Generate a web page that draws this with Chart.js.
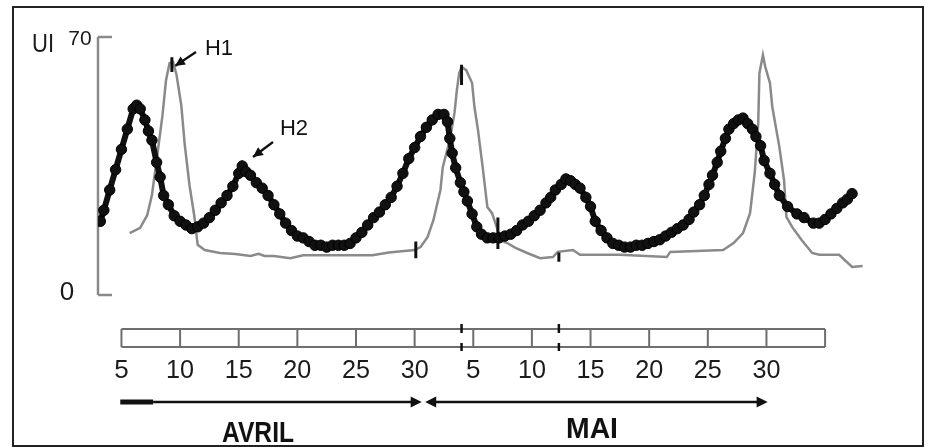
<!DOCTYPE html>
<html>
<head>
<meta charset="utf-8">
<script src="https://cdn.jsdelivr.net/npm/chart.js@4/dist/chart.umd.min.js"></script>
<style>
  html, body { margin: 0; padding: 0; background: #fff; }
  #c { display: block; }
</style>
</head>
<body>
<canvas id="c" width="930" height="447"></canvas>
<script>
// day index: 5..30 = avril, 31.. = mai (35 = 5 mai)
const h2Days = [3.2, 3.5, 4.0, 4.5, 5.0, 5.5, 6.0, 6.3, 6.6, 7.0, 7.3, 7.6, 8.0, 8.3, 8.6, 9.0, 9.5,
  10.0, 10.5, 11.0, 11.5, 12.0, 12.5, 13.0, 13.5, 14.0, 14.5, 15.0, 15.3, 15.6, 16.0, 16.5, 17.0, 17.5,
  18.0, 18.5, 19.0, 19.5, 20.0, 20.5, 21.0, 21.5, 22.0, 22.5, 23.0, 23.5, 24.0, 24.5, 25.0, 25.5, 26.0,
  26.5, 27.0, 27.5, 28.0, 28.5, 29.0, 29.5, 30.0, 30.5, 31.0, 31.5, 32.0, 32.5, 32.8, 33.0, 33.2, 33.5,
  33.9, 34.2, 34.5, 34.9, 35.3, 35.7, 36.2, 36.7, 37.2, 37.7, 38.2, 38.7, 39.2, 39.7, 40.2, 40.7, 41.2,
  41.6, 42.0, 42.5, 42.9, 43.3, 43.7, 44.1, 44.6, 45.0, 45.4, 45.9, 46.4, 46.9, 47.4, 47.9, 48.4, 48.9,
  49.4, 49.9, 50.4, 50.9, 51.4, 51.9, 52.4, 52.9, 53.4, 53.8, 54.3, 54.7, 55.1, 55.4, 55.8, 56.1, 56.5,
  56.8, 57.2, 57.6, 58.0, 58.4, 58.8, 59.1, 59.5, 59.8, 60.3, 60.7, 61.1, 61.8, 62.6, 63.2, 64.0, 64.5,
  65.0, 65.5, 66.0, 66.5, 66.9, 67.3];
const h2Values = [20, 23, 28.5, 34, 39.5, 45, 50.5, 51.5, 50.5, 47.5, 44.5, 42, 36, 32, 27, 24.5, 21.5,
  20, 19, 18, 18.5, 19.5, 21, 23, 25, 27, 29.5, 33, 35, 33.5, 32.5, 30.5, 29, 27,
  24.5, 22, 19.5, 17.5, 16, 15.5, 14.5, 13.5, 13.5, 13, 13.5, 13.5, 13.5, 14, 15.5, 17, 19,
  21, 22.5, 24.5, 26.5, 29.5, 33, 37, 40, 43, 45.5, 47.5, 49, 49, 47, 42.5, 38.5, 34.5,
  30.5, 28, 25.5, 22, 18.5, 16.5, 15.5, 15.5, 15.5, 16, 16.5, 17.5, 19, 20, 21.5, 23, 25,
  26.5, 28.5, 30, 31.5, 31, 30, 29, 26.5, 24, 20, 17.5, 15.5, 14, 13.5, 13, 13, 13.5,
  13.5, 14, 14.5, 15, 16, 17, 18, 19, 20.5, 22.5, 24.5, 27, 30, 32.5, 36, 39, 42.5,
  45, 46.5, 47.5, 48, 46.5, 45, 43, 40.5, 36.5, 33, 30, 27, 24, 22, 21, 19.5, 19.5,
  20.5, 22, 23.5, 25, 26, 27.5];

const h1Days = [5.7, 6.6, 7.2, 7.6, 8.0, 8.5, 8.8, 9.1, 9.4, 9.7, 10.1, 10.4, 10.8, 11.2, 11.5, 12.1,
  13.4, 14.7, 16.0, 16.7, 17.2, 18.0, 19.4, 20.5, 22.2, 26.4, 27.8, 30.0, 30.5, 31.1, 31.6, 32.2, 32.4,
  33.0, 33.4, 33.6, 33.8, 34.0, 34.4, 34.9, 35.1, 35.4, 35.8, 36.2, 36.6, 37.0, 37.3, 37.9, 38.6, 39.6,
  40.7, 41.8, 42.2, 43.5, 44.1, 47.5, 51.5, 51.8, 56.3, 57.2, 58.0, 58.6, 59.0, 59.3, 59.4, 59.7, 59.9,
  60.3, 60.5, 61.1, 61.5, 61.7, 62.2, 63.0, 63.9, 64.5, 66.2, 67.3, 68.2];
const h1Values = [16.8, 18.2, 21.7, 27.1, 36.6, 48.8, 58.3, 62.9, 63.2, 59.7, 51.5, 40.7, 29.8, 21.7, 13.6, 12.2,
  11.4, 11.1, 10.6, 11.2, 10.6, 10.6, 10.0, 10.8, 10.8, 10.8, 11.5, 12.2, 13.0, 15.7, 20.3, 28.5, 34.7,
  42.1, 49.4, 55.6, 60.2, 61.9, 61.0, 57.5, 51.0, 44.8, 34.7, 23.9, 22.2, 18.4, 14.9, 14.1, 12.8, 11.4,
  10.0, 10.3, 11.7, 12.2, 10.9, 10.9, 10.3, 11.7, 12.2, 14.1, 16.8, 22.2, 33.1, 46.7, 60.2, 65.1, 61.9,
  57.5, 51.0, 40.2, 31.2, 21.2, 18.4, 14.9, 11.4, 10.9, 10.9, 7.6, 7.9];

// little black day marks drawn on the curves
const markDays = [9.3, 30.1, 34.0, 37.1, 42.3];
const markLow = [60.5, 10, 57, 12.5, 9];
const markHigh = [64.5, 14.5, 62.5, 21, 11.5];

const rulerDays = [5, 10, 15, 20, 25, 30, 35, 40, 45, 50, 55, 60, 65];
const rulerLabels = ["5", "10", "15", "20", "25", "30", "5", "10", "15", "20", "25", "30", ""];
const monthBreakDays = [34, 42.3];

const yTicks = [0, 70];

const h1Points = h1Days.map((d, i) => ({ x: d, y: h1Values[i] }));
const h2Points = h2Days.map((d, i) => ({ x: d, y: h2Values[i] }));
const markPoints = [];
markDays.forEach((d, i) => {
  markPoints.push({ x: d, y: markLow[i] }, { x: d, y: markHigh[i] }, { x: d, y: null });
});

const INK = "#1b1b1b";
const GREY = "#8a8a8a";

function arrowHead(ctx, x, y, dir, len, half) {
  ctx.beginPath();
  ctx.moveTo(x, y);
  ctx.lineTo(x - dir * len, y - half);
  ctx.lineTo(x - dir * len, y + half);
  ctx.closePath();
  ctx.fill();
}

function slantArrow(ctx, x1, y1, x2, y2) {
  const a = Math.atan2(y2 - y1, x2 - x1);
  ctx.beginPath();
  ctx.moveTo(x1, y1);
  ctx.lineTo(x2, y2);
  ctx.stroke();
  ctx.beginPath();
  ctx.moveTo(x2, y2);
  ctx.lineTo(x2 - 11 * Math.cos(a - 0.45), y2 - 11 * Math.sin(a - 0.45));
  ctx.lineTo(x2 - 11 * Math.cos(a + 0.45), y2 - 11 * Math.sin(a + 0.45));
  ctx.closePath();
  ctx.fill();
}

const decor = {
  id: "decor",
  beforeDraw(chart) {
    const ctx = chart.ctx;
    const xs = chart.scales.x;
    const ys = chart.scales.y;
    ctx.save();
    ctx.fillStyle = "#fff";
    ctx.fillRect(0, 0, chart.width, chart.height);

    // frame
    ctx.strokeStyle = "#222";
    ctx.lineWidth = 2;
    ctx.strokeRect(13, 7, 910, 439);

    // y axis
    const ax = xs.left;
    ctx.strokeStyle = GREY;
    ctx.lineWidth = 2.5;
    ctx.beginPath();
    ctx.moveTo(ax, ys.getPixelForValue(yTicks[1]));
    ctx.lineTo(ax, ys.getPixelForValue(yTicks[0]));
    yTicks.forEach((t) => {
      const py = ys.getPixelForValue(t);
      ctx.moveTo(ax, py);
      ctx.lineTo(ax + 14, py);
    });
    ctx.stroke();

    ctx.fillStyle = INK;
    ctx.textBaseline = "alphabetic";
    ctx.textAlign = "center";
    ctx.font = "25px 'Liberation Sans', Arial, sans-serif";
    ctx.fillText("UI", 43, 52, 22);
    ctx.font = "21px 'Liberation Sans', Arial, sans-serif";
    ctx.fillText(String(yTicks[1]), 80, 45);
    ctx.font = "26px 'Liberation Sans', Arial, sans-serif";
    ctx.fillText(String(yTicks[0]), 67, 300);

    // ruler
    const rTop = 329, rBot = 347;
    const r0 = xs.getPixelForValue(rulerDays[0]);
    const r1 = xs.getPixelForValue(rulerDays[rulerDays.length - 1]);
    ctx.strokeStyle = "#6e6e6e";
    ctx.lineWidth = 2;
    ctx.beginPath();
    ctx.moveTo(r0, rTop); ctx.lineTo(r1, rTop);
    ctx.moveTo(r0, rBot); ctx.lineTo(r1, rBot);
    rulerDays.forEach((d) => {
      const px = xs.getPixelForValue(d);
      ctx.moveTo(px, rTop); ctx.lineTo(px, rBot);
    });
    ctx.stroke();
    ctx.strokeStyle = "#111";
    ctx.lineWidth = 2.5;
    monthBreakDays.forEach((d) => {
      const px = xs.getPixelForValue(d);
      ctx.beginPath();
      ctx.moveTo(px, rTop - 5); ctx.lineTo(px, rTop + 4);
      ctx.moveTo(px, rBot - 4); ctx.lineTo(px, rBot + 4);
      ctx.stroke();
    });

    ctx.fillStyle = INK;
    ctx.font = "26px 'Liberation Sans', Arial, sans-serif";
    rulerDays.forEach((d, i) => {
      if (!rulerLabels[i]) return;
      ctx.fillText(rulerLabels[i], xs.getPixelForValue(d), 378, 28);
    });

    // month arrows
    const ay = 402;
    ctx.fillStyle = "#111";
    ctx.strokeStyle = "#111";
    const aStart = xs.getPixelForValue(4.9);
    const aThick = xs.getPixelForValue(7.7);
    const aEnd = xs.getPixelForValue(30.6);
    ctx.lineWidth = 5;
    ctx.beginPath(); ctx.moveTo(aStart, ay); ctx.lineTo(aThick, ay); ctx.stroke();
    ctx.lineWidth = 2.5;
    ctx.beginPath(); ctx.moveTo(aThick, ay); ctx.lineTo(aEnd - 8, ay); ctx.stroke();
    arrowHead(ctx, aEnd, ay, 1, 11, 5.5);

    const mStart = xs.getPixelForValue(30.9);
    const mEnd = xs.getPixelForValue(60.1);
    ctx.beginPath(); ctx.moveTo(mStart + 8, ay); ctx.lineTo(mEnd - 8, ay); ctx.stroke();
    arrowHead(ctx, mStart, ay, -1, 11, 5.5);
    arrowHead(ctx, mEnd, ay, 1, 11, 5.5);

    ctx.font = "bold 30px 'Liberation Sans', Arial, sans-serif";
    ctx.fillText("AVRIL", 258, 442, 72);
    ctx.fillText("MAI", 592, 438, 52);

    // H1 / H2 labels
    ctx.font = "22px 'Liberation Sans', Arial, sans-serif";
    ctx.fillText("H1", 219, 55, 28);
    ctx.fillText("H2", 294, 135, 29);
    ctx.lineWidth = 2.2;
    slantArrow(ctx, 196, 52, 175, 66);
    slantArrow(ctx, 273, 142, 253, 157);
    ctx.restore();
  },
};

new Chart(document.getElementById("c"), {
  type: "scatter",
  data: {
    datasets: [
      {
        label: "H1",
        data: h1Points,
        showLine: true,
        borderColor: GREY,
        borderWidth: 2.5,
        pointRadius: 0,
        tension: 0,
        order: 3,
      },
      {
        label: "marks",
        data: markPoints,
        showLine: true,
        spanGaps: false,
        borderColor: "#111",
        borderWidth: 3,
        pointRadius: 0,
        order: 2,
      },
      {
        label: "H2",
        data: h2Points,
        showLine: true,
        borderColor: "#111",
        borderWidth: 6,
        tension: 0,
        pointStyle: "circle",
        pointRadius: 5.2,
        backgroundColor: "#111",
        pointBorderColor: "#000",
        pointBorderWidth: 1,
        order: 1,
      },
    ],
  },
  options: {
    responsive: false,
    animation: false,
    devicePixelRatio: 1,
    layout: { padding: { left: 98, right: 58, top: 37, bottom: 152 } },
    plugins: { legend: { display: false }, tooltip: { enabled: false } },
    scales: {
      x: { type: "linear", min: 3, max: 69, display: false },
      y: { min: 0, max: 70, display: false },
    },
  },
  plugins: [decor],
});
</script>
</body>
</html>
